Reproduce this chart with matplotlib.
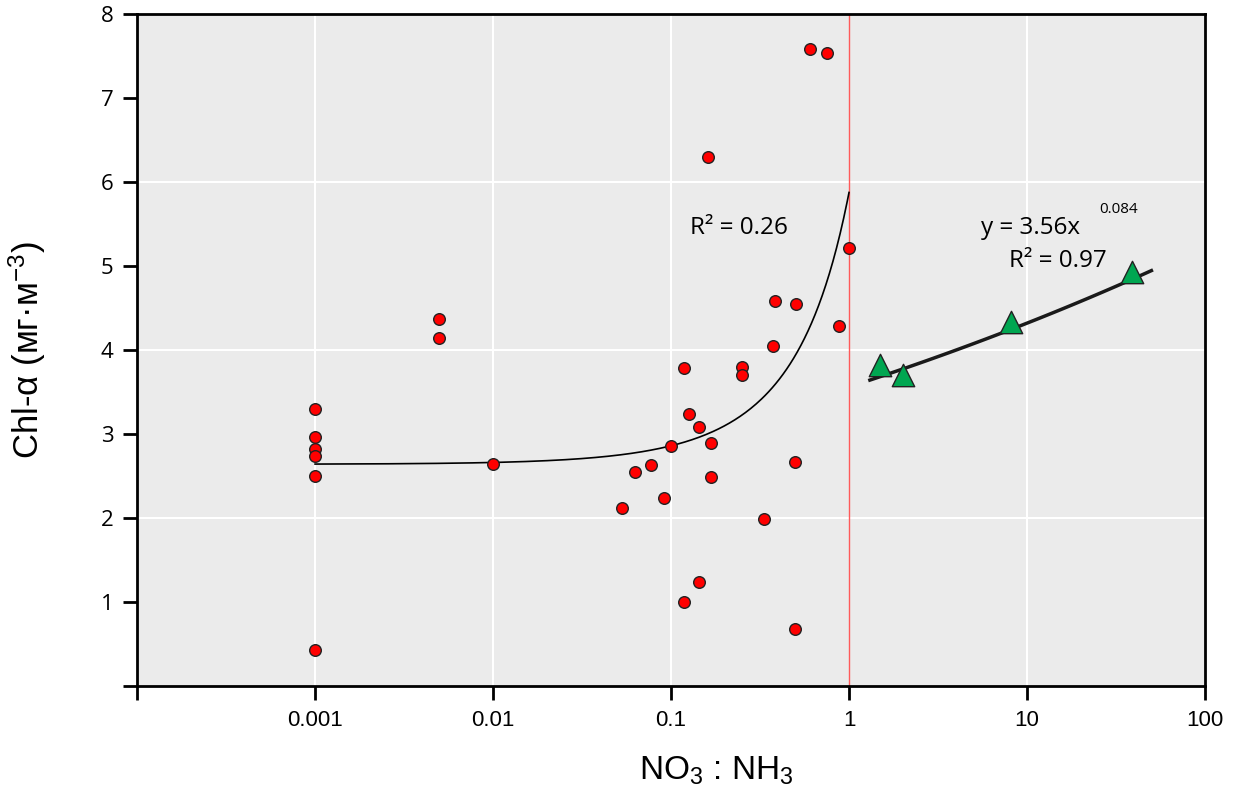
import matplotlib
matplotlib.use("Agg")
import matplotlib.pyplot as plt
import numpy as np

# red points (NO3:NH3 ratio, Chl-a)
red_x = [0.001, 0.001, 0.001, 0.001, 0.001, 0.001, 0.005, 0.005, 0.01,
         0.053, 0.063, 0.077, 0.091, 0.1, 0.118, 0.126, 0.144, 0.168, 0.168,
         0.118, 0.144, 0.161, 0.25, 0.25, 0.333, 0.374, 0.384, 0.503, 0.5,
         0.5, 0.60, 0.75, 0.88, 1.0]
red_y = [3.30, 2.96, 2.82, 2.74, 2.50, 0.43, 4.37, 4.14, 2.64,
         2.12, 2.55, 2.63, 2.24, 2.86, 3.79, 3.24, 3.08, 2.89, 2.49,
         1.00, 1.24, 6.30, 3.80, 3.70, 1.99, 4.05, 4.58, 4.55, 2.67,
         0.68, 7.58, 7.54, 4.29, 5.21]

# green triangles
green_x = [1.49, 2.01, 8.1, 39.0]
green_y = [3.82, 3.70, 4.33, 4.93]

# trend lines
exp_a, exp_b = 2.64, 0.80      # y = a*exp(b*x), R2=0.26
pow_a, pow_b = 3.56, 0.084     # y = a*x^b, R2=0.97

plt.rcParams['font.family'] = ['Open Sans', 'DejaVu Sans']
plt.rcParams['mathtext.fontset'] = 'custom'
plt.rcParams['mathtext.rm'] = 'Liberation Sans'
plt.rcParams['mathtext.it'] = 'Liberation Sans'
fig = plt.figure(figsize=(12.35, 7.94), dpi=100)
ax = fig.add_axes([0.111, 0.136, 0.8647, 0.8464])
ax.set_facecolor('#EBEBEB')

ax.set_xscale('log')
ax.set_xlim(1e-4, 100)
ax.set_ylim(0, 8)
ax.set_xticks([1e-4, 1e-3, 1e-2, 1e-1, 1, 10, 100])
ax.set_xticklabels(['', '0.001', '0.01', '0.1', '1', '10', '100'],
                   family=['Liberation Sans', 'DejaVu Sans'], fontsize=16)
ax.minorticks_off()
ax.set_yticks(range(0, 9))
ax.set_yticklabels([''] + [str(i) for i in range(1, 9)], fontsize=16)

for xg in [1e-3, 1e-2, 1e-1, 10]:
    ax.axvline(xg, color='white', lw=1.5, zorder=0.5)
for yg in [2, 4, 6]:
    ax.axhline(yg, color='white', lw=1.5, zorder=0.5)
ax.axvline(1, color='#FF5A5A', lw=1.0, zorder=0.6)

for s in ax.spines.values():
    s.set_linewidth(2)
    s.set_color('black')
ax.tick_params(direction='out', length=10, width=2, pad=7)

xc = np.logspace(-3, 0, 300)
ax.plot(xc, exp_a * np.exp(exp_b * xc), color='black', lw=1.2, zorder=2)
xp = np.logspace(np.log10(1.31), np.log10(50), 100)
ax.plot(xp, pow_a * xp ** pow_b, color='#1a1a1a', lw=2.5, zorder=2)

ax.scatter(red_x, red_y, s=70, color='#FF0000', edgecolors='#222222',
           linewidths=1, zorder=3)
ax.scatter(green_x, green_y, s=260, marker='^', color='#00A651',
           edgecolors='#222222', linewidths=1, zorder=3)

ax.text(0.128, 5.45, 'R² = 0.26', fontsize=17.5, ha='left', va='center')
ax.text(5.5, 5.45, 'y = 3.56x', fontsize=17.5, ha='left', va='center')
ax.text(25.5, 5.67, '0.084', fontsize=11, ha='left', va='center')
ax.text(7.9, 5.06, 'R² = 0.97', fontsize=17.5, ha='left', va='center')

ax.set_ylabel('Chl-α (мг·м$^{-3}$)', fontsize=25,
              family=['Liberation Sans', 'DejaVu Sans'])
ax.yaxis.set_label_coords(-0.083, 0.5)
ax.set_xlabel(r'NO$_3$ : NH$_3$', fontsize=24,
              family=['Liberation Sans', 'DejaVu Sans'])
ax.xaxis.set_label_coords(0.542, -0.102)

fig.savefig('out.png', dpi=100)
